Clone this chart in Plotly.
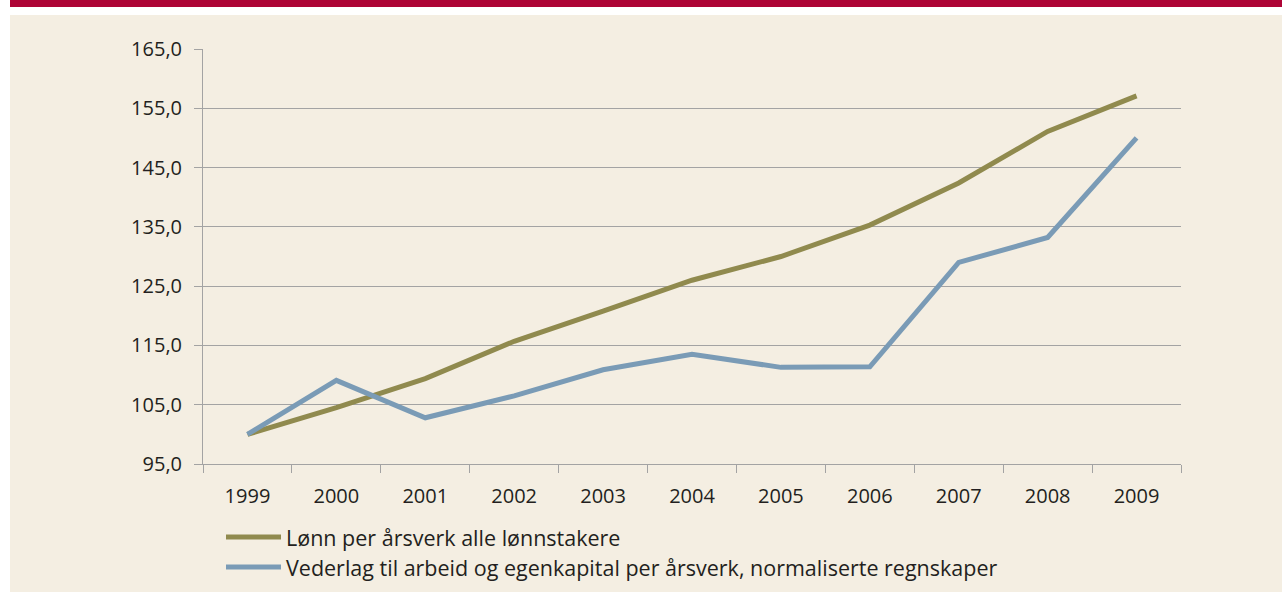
import plotly.graph_objects as go

# index values (1999 = 100)
years = ["1999", "2000", "2001", "2002", "2003", "2004", "2005", "2006", "2007", "2008", "2009"]
lonn = [100.0, 104.5, 109.4, 115.7, 120.8, 126.0, 130.0, 135.3, 142.4, 151.1, 157.1]
vederlag = [100.0, 109.1, 102.8, 106.5, 110.9, 113.5, 111.3, 111.4, 129.0, 133.2, 150.0]
series_names = [
    "Lønn per årsverk alle lønnstakere",
    "Vederlag til arbeid og egenkapital per årsverk, normaliserte regnskaper",
]
y_ticks = [95, 105, 115, 125, 135, 145, 155, 165]

OLIVE = "#908A4E"
BLUE = "#7A9BB6"
BEIGE = "#F4EEE2"
RED = "#AE0436"
GRID = "#A3A3A3"
TEXT = "#231F20"
FONT = "Open Sans"

W, H = 1282, 592
L, R, T, B = 203, 101, 49, 128
PW, PH = W - L - R, H - T - B


def px_x(px):
    return (px - L) / PW


def px_y(py):
    return (H - B - py) / PH


fig = go.Figure()
for vals, color in [(lonn, OLIVE), (vederlag, BLUE)]:
    fig.add_trace(go.Scatter(x=years, y=vals, mode="lines",
                             line=dict(color=color, width=5), showlegend=False))

shapes = [
    # white strip + red header bar above the beige panel
    dict(type="rect", xref="paper", yref="paper", x0=px_x(-2), x1=px_x(W + 2),
         y0=px_y(15), y1=px_y(-2), fillcolor="white", line_width=0, layer="below"),
    dict(type="rect", xref="paper", yref="paper", x0=px_x(-2), x1=px_x(10),
         y0=px_y(H + 2), y1=px_y(-2), fillcolor="white", line_width=0, layer="below"),
    dict(type="rect", xref="paper", yref="paper", x0=px_x(10), x1=px_x(W + 2),
         y0=px_y(7), y1=px_y(-2), fillcolor=RED, line_width=0, layer="below"),
]
annotations = []
# hand-drawn legend (longer swatches than plotly's default)
for i, (name, color) in enumerate(zip(series_names, [OLIVE, BLUE])):
    yy = px_y(537 + 30 * i)
    shapes.append(dict(type="line", xref="paper", yref="paper", x0=px_x(226), x1=px_x(281),
                       y0=yy, y1=yy, line=dict(color=color, width=5)))
    annotations.append(dict(xref="paper", yref="paper", x=px_x(284), y=yy, text=name,
                            showarrow=False, xanchor="left", yanchor="middle",
                            font=dict(family=FONT, size=21.5, color=TEXT)))

fig.update_layout(
    width=W, height=H,
    margin=dict(l=L, r=R, t=T, b=B),
    paper_bgcolor=BEIGE, plot_bgcolor=BEIGE,
    separators=", ",
    font=dict(family=FONT, size=20, color=TEXT),
    shapes=shapes, annotations=annotations,
)
fig.update_xaxes(type="category", range=[-0.5, 10.5], tickson="boundaries",
                 ticks="outside", ticklen=8, tickcolor=GRID, showline=True,
                 linecolor=GRID, linewidth=1, showgrid=False, ticklabelstandoff=14)
fig.update_yaxes(range=[95, 165], tickvals=y_ticks, tickformat=".1f", ticks="outside",
                 ticklen=8, tickcolor=GRID, showline=True, linecolor=GRID, linewidth=1,
                 showgrid=True, gridcolor=GRID, gridwidth=1, zeroline=False,
                 ticklabelstandoff=8)

# page has a default 8px body margin; drop it so the figure sits at 0,0
fig.write_html("out.html", config={"displayModeBar": False},
               post_script="document.body.style.margin='0';")
